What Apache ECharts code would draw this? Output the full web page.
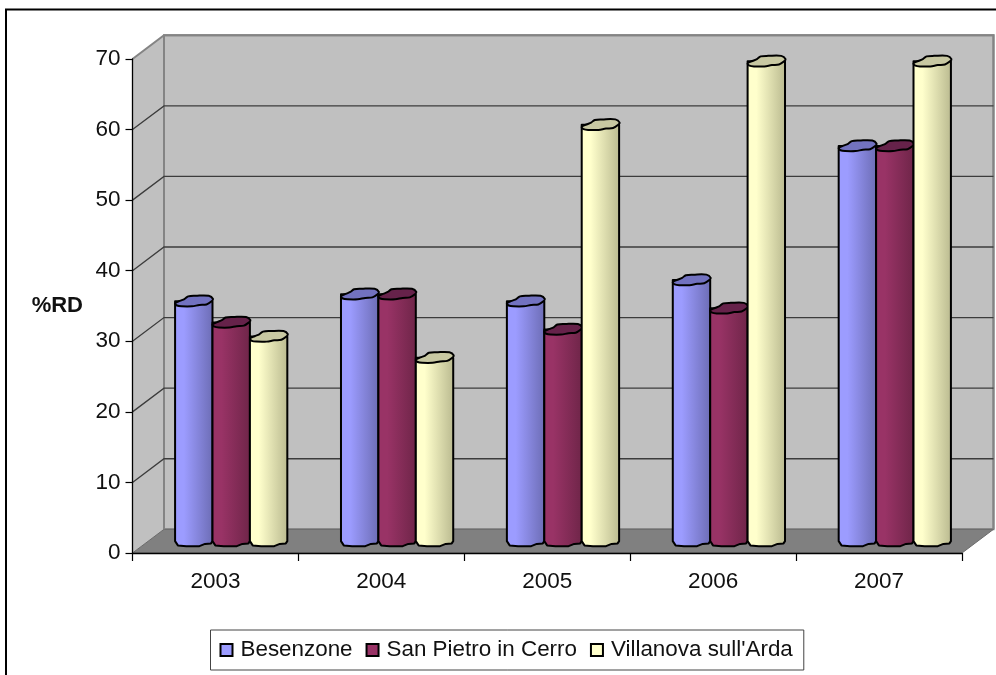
<!DOCTYPE html>
<html>
<head>
<meta charset="utf-8">
<style>html,body{margin:0;padding:0;background:#fff}#c{width:996px;height:675px}</style>
<script src="https://cdn.jsdelivr.net/npm/echarts@6/dist/echarts.min.js"></script>
</head>
<body>
<div id="c"></div>
<script>
var years = ['2003', '2004', '2005', '2006', '2007'];
var besenzone = [34, 35, 34, 37, 56];
var sanPietro = [31, 35, 30, 33, 56];
var villanova = [29, 26, 59, 68, 68];
var yTicks = [10, 20, 30, 40, 50, 60, 70];

var FONT = '"Liberation Sans", Arial, sans-serif';
var DX = 31.5, DY = -23.7;      // depth of the 3D box, in pixels
var GRID = { left: 132.5, right: 34, top: 59, bottom: 122 };
var WALL = '#C0C0C0', FLOOR = '#808080', EDGE = '#848484';

var topProfile = [[-1,0.4],[-0.75,-0.05],[-0.5,-0.4],[-0.3,-0.9],[0.1,-1],[0.8,-1],[1.03,-0.4],[0.95,0],[0.68,0.6],[0.3,0.7],[-0.1,0.95],[-0.65,0.95],[-0.9,0.8]];
var bottomProfile = [[1,0],[0.92,0.45],[0.6,0.55],[0.3,1],[-0.4,1],[-0.85,0.85],[-1,0]];

var chart = echarts.init(document.getElementById('c'), null, { renderer: 'canvas' });

function wallsItem(params, api) {
  var size = api.size([1, 0]);
  var x0 = api.coord([0, 0])[0] - size[0] / 2;
  var x1 = x0 + size[0] * years.length;
  var y0 = api.coord([0, 0])[1];
  var y1 = api.coord([0, 70])[1];
  var children = [
    { type: 'polygon', shape: { points: [[x0 + DX, y0 + DY], [x1 + DX, y0 + DY], [x1 + DX, y1 + DY], [x0 + DX, y1 + DY]] },
      style: { fill: WALL, stroke: EDGE, lineWidth: 2 } },
    { type: 'polygon', shape: { points: [[x0, y0], [x0 + DX, y0 + DY], [x0 + DX, y1 + DY], [x0, y1]] },
      style: { fill: WALL, stroke: null } },
    { type: 'polygon', shape: { points: [[x0, y0], [x1, y0], [x1 + DX, y0 + DY], [x0 + DX, y0 + DY]] },
      style: { fill: FLOOR, stroke: '#6a6a6a', lineWidth: 1 } },
    { type: 'polyline', shape: { points: [[x0, y1], [x0 + DX, y1 + DY], [x1 + DX, y1 + DY], [x1 + DX, y0 + DY]] },
      style: { fill: null, stroke: EDGE, lineWidth: 2 } },
    { type: 'line', shape: { x1: x0 + DX, y1: y1 + DY, x2: x0 + DX, y2: y0 + DY }, style: { stroke: EDGE, lineWidth: 2 } }
  ];
  yTicks.forEach(function (t) {
    if (t === 70) return;
    var y = api.coord([0, t])[1];
    children.push({ type: 'polyline', shape: { points: [[x0, y], [x0 + DX, y + DY], [x1 + DX, y + DY]] },
      style: { fill: null, stroke: '#3c3c3c', lineWidth: 1.3 } });
  });
  return { type: 'group', children: children };
}

function barRenderer(seriesIdx, colors) {
  return function (params, api) {
    var cat = api.value(0), val = api.value(1);
    var band = api.size([1, 0])[0];
    var w = band * 0.2255;
    var c = api.coord([cat, val]);
    var b = api.coord([cat, 0]);
    var cx = c[0] + DX / 2 + (seriesIdx - 1) * w;
    var topY = c[1] + DY / 2, baseY = b[1] + DY / 2;
    var rx = w / 2, ry = 5.4;
    var body = [[cx - rx, topY], [cx + rx, topY]];
    bottomProfile.forEach(function (p) { body.push([cx + p[0] * rx, baseY + p[1] * 5]); });
    var topPts = topProfile.map(function (p) { return [cx + p[0] * rx, topY + p[1] * ry]; });
    return {
      type: 'group',
      children: [
        { type: 'polygon', shape: { points: body },
          style: { fill: new echarts.graphic.LinearGradient(0, 0, 1, 0, [
              { offset: 0, color: colors[0] }, { offset: 0.25, color: colors[0] },
              { offset: 1, color: colors[1] }]), stroke: '#000', lineWidth: 2, lineJoin: 'round' } },
        { type: 'polygon', shape: { points: topPts, smooth: 0.35 },
          style: { fill: colors[2], stroke: '#000', lineWidth: 2, lineJoin: 'round' } }
      ]
    };
  };
}

function pairs(arr) { return arr.map(function (v, i) { return [i, v]; }); }

function barSeries(name, arr, idx, colors) {
  return {
    name: name, type: 'custom', coordinateSystem: 'cartesian2d', clip: false, silent: true, z: 3 + idx,
    itemStyle: { color: colors[0] },
    encode: { x: 0, y: 1 },
    data: pairs(arr),
    renderItem: barRenderer(idx, colors)
  };
}

chart.setOption({
  animation: false,
  backgroundColor: '#fff',
  textStyle: { fontFamily: FONT },
  grid: { left: GRID.left, right: GRID.right, top: GRID.top, bottom: GRID.bottom, containLabel: false },
  xAxis: {
    type: 'category', data: years, z: 6,
    axisLine: { show: true, lineStyle: { color: '#000', width: 1.3 } },
    axisTick: { show: true, alignWithLabel: false, length: 8, lineStyle: { color: '#000', width: 1.2 } },
    axisLabel: { color: '#111', fontFamily: FONT, fontSize: 22.5, margin: 17 },
    splitLine: { show: false }
  },
  yAxis: {
    type: 'value', min: 0, max: 70, interval: 10, z: 6,
    name: '%RD', nameLocation: 'middle', nameRotate: 0, nameGap: 49.5,
    nameTextStyle: { color: '#111', fontFamily: FONT, fontSize: 22, fontWeight: 'bold' },
    axisLine: { show: true, lineStyle: { color: '#000', width: 1.3 } },
    axisTick: { show: true, length: 7, lineStyle: { color: '#000', width: 1.2 } },
    axisLabel: { color: '#111', fontFamily: FONT, fontSize: 22.5, margin: 12 },
    splitLine: { show: false }
  },
  legend: {
    left: 210.5, top: 630, padding: [9, 11, 9, 9],
    orient: 'horizontal', itemGap: 13, itemWidth: 12, itemHeight: 12,
    borderColor: '#444', borderWidth: 1, backgroundColor: '#fff',
    icon: 'rect',
    itemStyle: { borderColor: '#000', borderWidth: 2 },
    textStyle: { color: '#111', fontFamily: FONT, fontSize: 22.4, padding: [0, 0, 0, 3] },
    data: ['Besenzone', 'San Pietro in Cerro', "Villanova sull'Arda"]
  },
  graphic: [
    { type: 'polyline', silent: true, shape: { points: [[6, 675], [6, 9.5], [996, 9.5]] },
      style: { fill: null, stroke: '#000', lineWidth: 2 } }
  ],
  series: [
    { type: 'custom', coordinateSystem: 'cartesian2d', clip: false, silent: true, z: 1,
      encode: { x: 0, y: 1 }, data: [[0, 0]], renderItem: wallsItem },
    barSeries('Besenzone', besenzone, 0, ['#9C9CFF', '#6C6CB4', '#7272C0']),
    barSeries('San Pietro in Cerro', sanPietro, 1, ['#993366', '#6E2548', '#66224A']),
    barSeries("Villanova sull'Arda", villanova, 2, ['#FFFFCC', '#B9B98F', '#C8C8A2'])
  ]
});
</script>
</body>
</html>
